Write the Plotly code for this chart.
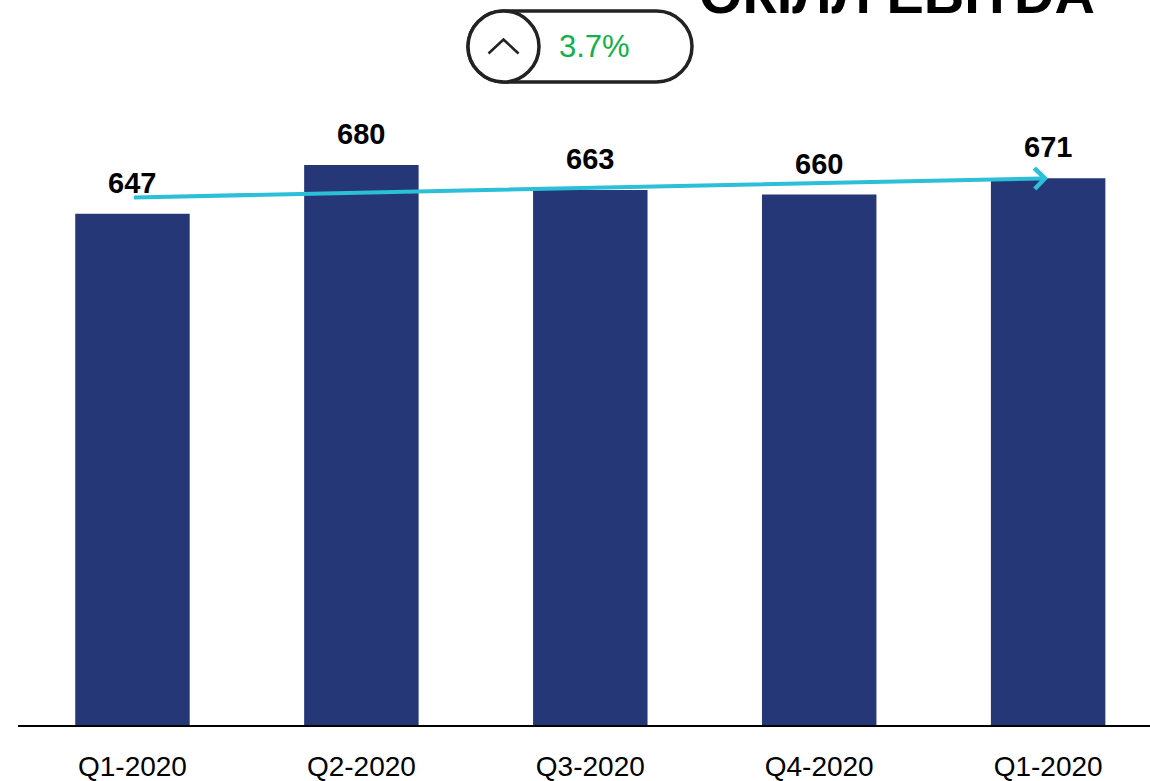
import plotly.graph_objects as go

quarters = ["Q1-2020", "Q2-2020", "Q3-2020", "Q4-2020", "Q1-2020"]
ebitda = [647, 680, 663, 660, 671]
trend = [658, 671]          # start / end of the growth arrow
change_label = "3.7%"
title_text = "ОКІЛЛ EBITDA"

W, H = 1150, 781
ML, MR, MT, MB = 18, 0, 0, 56
PW, PH = W - ML - MR, H - MT - MB

def px(x, y):
    # pixel -> paper coords
    return (x - ML) / PW, (H - MB - y) / PH

def path_px(cmds):
    out = []
    for c in cmds:
        if isinstance(c, str):
            out.append(c)
        else:
            xx, yy = px(*c)
            out.append(f"{xx:.5f},{yy:.5f}")
    return " ".join(out)

x_idx = list(range(len(quarters)))

fig = go.Figure()
fig.add_bar(x=x_idx, y=ebitda, width=0.5, marker_color="#253777",
            marker_line_width=0, hoverinfo="skip")

# value labels
for i, v in zip(x_idx, ebitda):
    fig.add_annotation(x=i, y=v, text=f"<b>{v}</b>", showarrow=False,
                       yanchor="bottom", yshift=13,
                       font=dict(family="Liberation Sans", size=29, color="#000"))

# trend arrow
fig.add_annotation(x=x_idx[-1], y=trend[1], ax=x_idx[0], ay=trend[0],
                   axref="x", ayref="y", xref="x", yref="y", text="",
                   showarrow=True, arrowhead=4, arrowsize=1, arrowwidth=4,
                   arrowcolor="#2BBFD8", standoff=0, startstandoff=0)

# badge (pill + circle + chevron)
L, R, T, B = 468, 692, 11, 82
r = (B - T) / 2
k = 0.5523 * r
cy = (T + B) / 2
pill = path_px([
    "M", (L + r, T), "L", (R - r, T),
    "C", (R - r + k, T), (R, cy - k), (R, cy),
    "C", (R, cy + k), (R - r + k, B), (R - r, B),
    "L", (L + r, B),
    "C", (L + r - k, B), (L, cy + k), (L, cy),
    "C", (L, cy - k), (L + r - k, T), (L + r, T), "Z",
])
fig.add_shape(type="path", xref="paper", yref="paper", path=pill,
              line=dict(color="#222", width=3.5), fillcolor="white", layer="above")
cx0, cy0 = px(L, T)
cx1, cy1 = px(L + 2 * r, B)
fig.add_shape(type="circle", xref="paper", yref="paper",
              x0=cx0, y0=cy1, x1=cx1, y1=cy0,
              line=dict(color="#222", width=3.5), fillcolor="white", layer="above")
chev = path_px(["M", (L + r - 15, cy + 7), "L", (L + r, cy - 7), "L", (L + r + 15, cy + 7)])
fig.add_shape(type="path", xref="paper", yref="paper", path=chev,
              line=dict(color="#222", width=2.5), layer="above")
tx, ty = px(594, cy)
fig.add_annotation(xref="paper", yref="paper", x=tx, y=ty, text=change_label,
                   showarrow=False, xanchor="center", yanchor="middle",
                   font=dict(family="Liberation Sans", size=31, color="#12B04A"))

# cut-off title at top right
tx, ty = px(1097, -6)
fig.add_annotation(xref="paper", yref="paper", x=tx, y=ty, text=f"<b>{title_text}</b>",
                   showarrow=False, xanchor="right", yanchor="middle",
                   font=dict(family="Liberation Sans", size=56, color="#000"))

fig.update_layout(
    width=W, height=H,
    margin=dict(l=ML, r=MR, t=MT, b=MB, autoexpand=False),
    plot_bgcolor="white", paper_bgcolor="white",
    showlegend=False,
    xaxis=dict(range=[-0.5, 4.445], tickvals=x_idx, ticktext=quarters,
               showline=True, linecolor="#000", linewidth=2,
               showgrid=False, zeroline=False, automargin=False,
               ticks="outside", ticklen=15, tickcolor="rgba(0,0,0,0)",
               tickfont=dict(family="Liberation Sans", size=28, color="#000")),
    yaxis=dict(range=[300, 792], visible=False, showgrid=False, automargin=False),
)

fig.write_html("out.html", config={"displayModeBar": False},
               post_script="document.body.style.margin='0';document.body.style.overflow='hidden';")
